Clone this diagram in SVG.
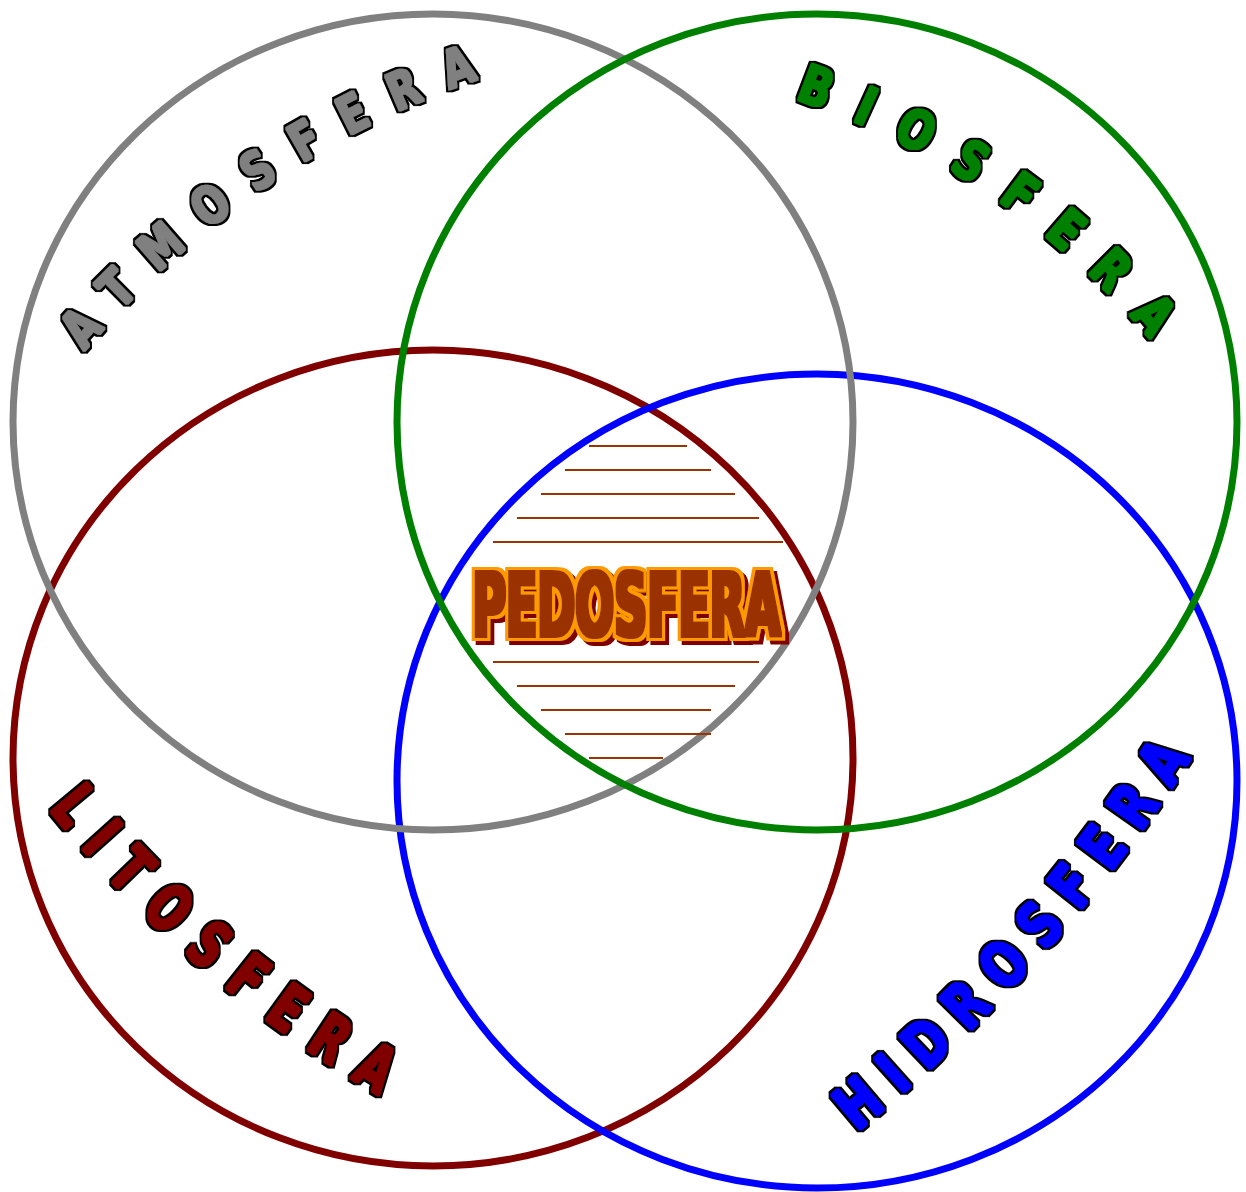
<svg xmlns="http://www.w3.org/2000/svg" width="1246" height="1192" viewBox="0 0 1246 1192">
<style>
.ring{fill:none;stroke-width:7}
.lbl{font-family:"DejaVu Sans Condensed","DejaVu Sans","Liberation Sans",sans-serif;font-stretch:condensed;font-weight:bold;dominant-baseline:central;filter:url(#heavy)}
.stripe{stroke:#993300;stroke-width:2;fill:none}
.pedo{font-family:"DejaVu Sans Condensed","DejaVu Sans","Liberation Sans",sans-serif;font-stretch:condensed;font-weight:bold;font-size:86.5px;fill:#993300;filter:url(#pedo)}
</style>
<defs>
<path id="pA" d="M 70.9 339.4 A 926 926 0 0 1 535.7 42.5"/>
<path id="pB" d="M 801.2 81.4 A 820 820 0 0 1 1211.3 386.7"/>
<path id="pL" d="M 65.3 794.8 A 1192 1192 0 0 0 448.9 1109.0"/>
<path id="pH" d="M 842.8 1115.2 A 1566 1566 0 0 0 1205.7 692.4"/>
<filter id="heavy" x="-10%" y="-10%" width="120%" height="120%">
<feMorphology in="SourceGraphic" operator="dilate" radius="1" result="fat"/>
<feMorphology in="SourceAlpha" operator="dilate" radius="2.6" result="oa"/>
<feFlood flood-color="#000000"/>
<feComposite in2="oa" operator="in" result="o"/>
<feMerge><feMergeNode in="o"/><feMergeNode in="fat"/></feMerge>
</filter>
<filter id="pedo" x="-5%" y="-20%" width="115%" height="150%">
<feMorphology in="SourceGraphic" operator="dilate" radius="1.5" result="fat"/>
<feMorphology in="SourceAlpha" operator="dilate" radius="4.5" result="oa"/>
<feFlood flood-color="#FF9900"/>
<feComposite in2="oa" operator="in" result="o"/>
<feFlood flood-color="#800000"/>
<feComposite in2="oa" operator="in"/>
<feOffset dx="4" dy="4" result="sh"/>
<feMerge><feMergeNode in="sh"/><feMergeNode in="o"/><feMergeNode in="fat"/></feMerge>
</filter>
</defs>
<rect width="1246" height="1192" fill="#fff"/>
<g id="litosfera">
<ellipse class="ring" cx="433" cy="758" rx="420" ry="408" stroke="#800000"/>
<text class="lbl" font-size="64" letter-spacing="27" textLength="453" lengthAdjust="spacingAndGlyphs" fill="#800000"><textPath href="#pL">LITOSFERA</textPath></text>
</g>
<g id="hidrosfera">
<ellipse class="ring" cx="817" cy="781" rx="420" ry="407" stroke="#0000FF"/>
<text class="lbl" font-size="62" letter-spacing="20" textLength="514" lengthAdjust="spacingAndGlyphs" fill="#0000FF"><textPath href="#pH">HIDROSFERA</textPath></text>
</g>
<g id="atmosfera">
<ellipse class="ring" cx="433" cy="422" rx="420" ry="408" stroke="#808080"/>
<text class="lbl" font-size="52" letter-spacing="32" textLength="521" lengthAdjust="spacingAndGlyphs" fill="#808080"><textPath href="#pA">ATMOSFERA</textPath></text>
</g>
<g id="biosfera">
<ellipse class="ring" cx="817" cy="422" rx="420" ry="408" stroke="#008000"/>
<text class="lbl" font-size="53.5" letter-spacing="34" textLength="474" lengthAdjust="spacingAndGlyphs" fill="#008000"><textPath href="#pB">BIOSFERA</textPath></text>
</g>
<g id="pedosfera">
<path class="stripe" d="M589 446H687M565 470H711M541 494H735M517 518H759M493 542H783M493 662H759M517 686H735M541 710H711M565 734H711M589 758H663"/>
<text class="pedo" x="472.5" y="635.5" textLength="308" lengthAdjust="spacingAndGlyphs">PEDOSFERA</text>
</g>
<g id="connectors"/>
</svg>
